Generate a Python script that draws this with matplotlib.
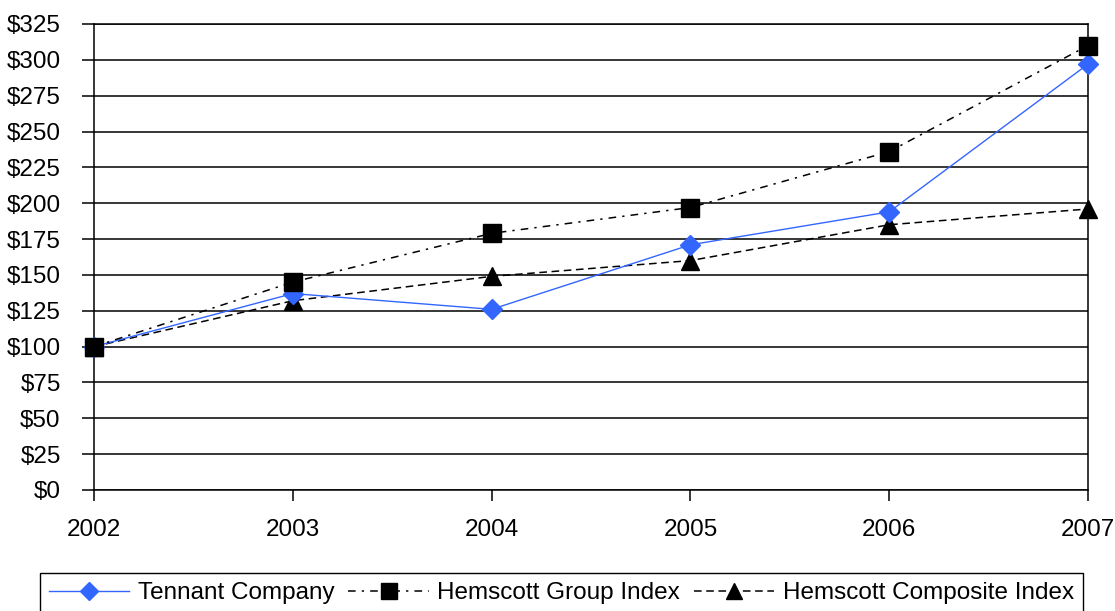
import matplotlib
matplotlib.use("Agg")
import matplotlib.pyplot as plt
from matplotlib.ticker import StrMethodFormatter

plt.rcParams['font.family'] = ['Liberation Sans', 'DejaVu Sans']

# data
years = [2002, 2003, 2004, 2005, 2006, 2007]
tennant = [100, 137, 126, 171, 194, 297]
group_index = [100, 145, 179, 197, 236, 310]
composite_index = [100, 132, 149, 160, 185, 196]
y_ticks = list(range(0, 326, 25))

fig = plt.figure(figsize=(11.15, 6.11), dpi=100)
ax = fig.add_axes([94 / 1115, 1 - 490 / 611, (1088 - 94) / 1115, (490 - 24) / 611])

# horizontal grid lines
for v in y_ticks:
    ax.axhline(v, color='black', lw=1.1, zorder=1)

ax.plot(years, composite_index, color='black', lw=1.1, dashes=(5, 3),
        marker='^', markersize=13, markerfacecolor='black', markeredgecolor='black',
        clip_on=False, zorder=3, label='Hemscott Composite Index')
ax.plot(years, tennant, color='#3366FF', lw=1.0,
        marker='D', markersize=10, markerfacecolor='#3366FF', markeredgecolor='#3366FF',
        clip_on=False, zorder=4, label='Tennant Company')
ax.plot(years, group_index, color='black', lw=1.1, dashes=(5, 4, 1.5, 4),
        marker='s', markersize=13, markerfacecolor='black', markeredgecolor='black',
        clip_on=False, zorder=5, label='Hemscott Group Index')

ax.set_xlim(2002, 2007)
ax.set_ylim(0, 325)
ax.set_xticks(years)
ax.set_yticks(y_ticks)
ax.yaxis.set_major_formatter(StrMethodFormatter('${x:.0f}'))
ax.tick_params(axis='y', length=9, width=1.1, pad=15, labelsize=17.5)
ax.tick_params(axis='x', length=8, width=1.1, pad=13, labelsize=17.5)
for s in ax.spines.values():
    s.set_color('black')
    s.set_linewidth(1.1)

handles, labels = ax.get_legend_handles_labels()
order = [1, 2, 0]
leg = fig.legend([handles[i] for i in order], [labels[i] for i in order],
                 loc='upper left', bbox_to_anchor=(40 / 1115, 1 - 573 / 611),
                 ncol=3, fontsize=17.5, frameon=True, fancybox=False,
                 edgecolor='black', framealpha=1, borderaxespad=0,
                 handlelength=3.3, handletextpad=0.35, columnspacing=0.58,
                 borderpad=0.37, markerscale=0.9)
leg.get_frame().set_linewidth(1.0)

fig.savefig('out.png', dpi=100)
